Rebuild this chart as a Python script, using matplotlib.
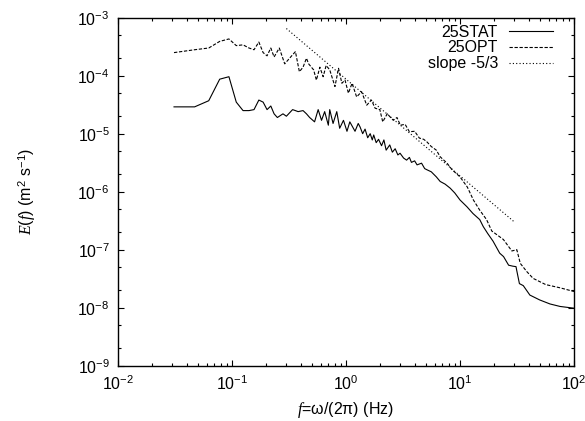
import matplotlib
matplotlib.use('Agg')
import matplotlib.pyplot as plt
from matplotlib.ticker import LogLocator, NullFormatter

plt.rcParams['font.family'] = ['Liberation Sans', 'DejaVu Sans']
plt.rcParams['mathtext.fontset'] = 'custom'
plt.rcParams['mathtext.rm'] = 'Liberation Sans'
plt.rcParams['mathtext.it'] = 'Liberation Serif:italic'

# spectra (f in Hz, E in m^2 s^-1)
stat_f = [0.031, 0.047, 0.0625, 0.078, 0.094, 0.109, 0.125, 0.141, 0.156, 0.172,
          0.1875, 0.203, 0.219, 0.234, 0.25, 0.28, 0.30, 0.34, 0.36, 0.38,
          0.42, 0.45, 0.48, 0.53, 0.57, 0.61, 0.65, 0.70, 0.72, 0.77,
          0.83, 0.88, 0.95, 1.02, 1.08, 1.2, 1.28, 1.33, 1.40, 1.47,
          1.55, 1.63, 1.70, 1.75, 1.84, 1.93, 2.05, 2.15, 2.25, 2.42,
          2.55, 2.70, 2.85, 2.98, 3.2, 3.4, 3.6, 3.75, 4.0, 4.2,
          4.6, 4.9, 5.1, 5.6, 6.2, 6.7, 7.4, 8.2, 9.0, 10,
          11.5, 13, 14.9, 16, 17.5, 19.5, 22.3, 24.1, 26.7, 29,
          31, 31.3, 33.2, 35.9, 41, 50, 61.5, 75.5, 100]
stat_E = [2.9e-5, 2.9e-5, 3.7e-5, 8.7e-5, 9.6e-5, 3.5e-5, 2.5e-5, 2.5e-5, 2.6e-5, 3.8e-5,
          3.5e-5, 2.6e-5, 3.0e-5, 2.2e-5, 1.9e-5, 2.2e-5, 2.0e-5, 2.6e-5, 2.5e-5, 2.4e-5,
          2.5e-5, 2.2e-5, 1.9e-5, 1.6e-5, 2.6e-5, 1.7e-5, 2.4e-5, 1.4e-5, 2.6e-5, 1.5e-5,
          2.4e-5, 1.24e-5, 1.7e-5, 1.1e-5, 1.6e-5, 1.1e-5, 1.5e-5, 1.3e-5, 1.0e-5, 1.2e-5,
          8.5e-6, 1.0e-5, 7.8e-6, 9.5e-6, 7.0e-6, 8.0e-6, 6.2e-6, 7.8e-6, 5.2e-6, 6.4e-6,
          4.8e-6, 5.5e-6, 4.3e-6, 4.6e-6, 3.8e-6, 3.5e-6, 3.9e-6, 3.2e-6, 3.4e-6, 2.9e-6,
          3.1e-6, 2.5e-6, 2.4e-6, 2.2e-6, 1.8e-6, 1.5e-6, 1.35e-6, 1.15e-6, 9.5e-7, 7.2e-7,
          5.5e-7, 4.2e-7, 3.3e-7, 2.5e-7, 1.9e-7, 1.4e-7, 8.7e-8, 7.6e-8, 5.4e-8, 5.2e-8,
          5.1e-8, 4.6e-8, 2.6e-8, 2.4e-8, 1.65e-8, 1.36e-8, 1.16e-8, 1.05e-8, 9.8e-9]

opt_f = [0.031, 0.047, 0.0625, 0.078, 0.094, 0.109, 0.125, 0.141, 0.156, 0.172,
         0.1875, 0.203, 0.219, 0.234, 0.26, 0.29, 0.32, 0.36, 0.39, 0.42,
         0.45, 0.47, 0.52, 0.55, 0.59, 0.63, 0.67, 0.72, 0.80, 0.86,
         0.92, 0.98, 1.05, 1.13, 1.24, 1.37, 1.52, 1.67, 1.8, 1.98,
         2.1, 2.3, 2.6, 2.8, 3.0, 3.3, 3.6, 4.0, 4.4, 4.8,
         5.1, 5.6, 6.2, 6.7, 7.7, 8.5, 10, 11.6, 13.1, 14.9,
         17.1, 19, 24, 28.5, 31.5, 33.8, 38.5, 43.8, 56.5, 75.5, 100]
opt_E = [2.5e-4, 2.8e-4, 3.0e-4, 3.9e-4, 4.3e-4, 3.3e-4, 3.4e-4, 3.0e-4, 2.8e-4, 3.8e-4,
         2.5e-4, 2.2e-4, 3.0e-4, 2.1e-4, 3.0e-4, 1.6e-4, 2.0e-4, 2.6e-4, 1.17e-4, 1.4e-4,
         2.0e-4, 1.6e-4, 1.26e-4, 8.4e-5, 1.4e-4, 9.6e-5, 1.5e-4, 1.26e-4, 6.5e-5, 1.34e-4,
         7.4e-5, 8.4e-5, 5.0e-5, 7.4e-5, 4.3e-5, 5.3e-5, 3.1e-5, 3.8e-5, 2.75e-5, 2.6e-5,
         1.6e-5, 2.2e-5, 1.7e-5, 1.9e-5, 1.4e-5, 1.45e-5, 1.08e-5, 1.1e-5, 8.4e-6, 8.0e-6,
         7.3e-6, 6.0e-6, 5.2e-6, 4.0e-6, 3.1e-6, 2.4e-6, 1.8e-6, 1.2e-6, 7.2e-7, 4.8e-7,
         3.3e-7, 2.1e-7, 1.5e-7, 9.5e-8, 1.0e-7, 5.8e-8, 4.2e-8, 3.2e-8, 2.5e-8, 2.2e-8, 1.9e-8]

# -5/3 reference line end points
slope_f = [0.3, 30]
slope_E = [6.5e-4, 3.0e-7]

fig = plt.figure(figsize=(5.85, 4.21), dpi=100)
ax = fig.add_axes([0.2017, 0.1314, 0.7795, 0.8266])

ax.plot(stat_f, stat_E, color='black', lw=0.8, label='25STAT')
ax.plot(opt_f, opt_E, color='black', lw=0.8, linestyle=(0, (3, 1.5)), label='25OPT')
ax.plot(slope_f, slope_E, color='black', lw=0.8, linestyle=(0, (1, 2)), label='slope -5/3')

ax.set_xscale('log')
ax.set_yscale('log')
ax.set_xlim(1e-2, 1e2)
ax.set_ylim(1e-9, 1e-3)

ax.yaxis.set_minor_locator(LogLocator(base=10, subs=(2.0, 5.0), numticks=20))
ax.yaxis.set_minor_formatter(NullFormatter())
ax.xaxis.set_minor_locator(LogLocator(base=10, subs=range(2, 10), numticks=20))
ax.xaxis.set_minor_formatter(NullFormatter())

ax.tick_params(which='both', direction='in', top=True, right=True, labelsize=11.5)
ax.tick_params(which='major', length=4, width=0.8, pad=6)
ax.tick_params(which='minor', length=2.5, width=0.8)
for s in ax.spines.values():
    s.set_linewidth(1.0)

ax.set_xlabel(r'$f$=ω/(2π) (Hz)', fontsize=11.5, labelpad=5)
ax.set_ylabel(r'$E(f)$ (m$^2$ s$^{-1}$)', fontsize=11.5, labelpad=28)

ax.legend(loc='upper right', bbox_to_anchor=(0.954, 0.98), frameon=False,
          markerfirst=False, fontsize=11.5, handlelength=2.75, handletextpad=0.7,
          labelspacing=0.05, borderpad=0, borderaxespad=0)

fig.savefig('out.png', dpi=100)
